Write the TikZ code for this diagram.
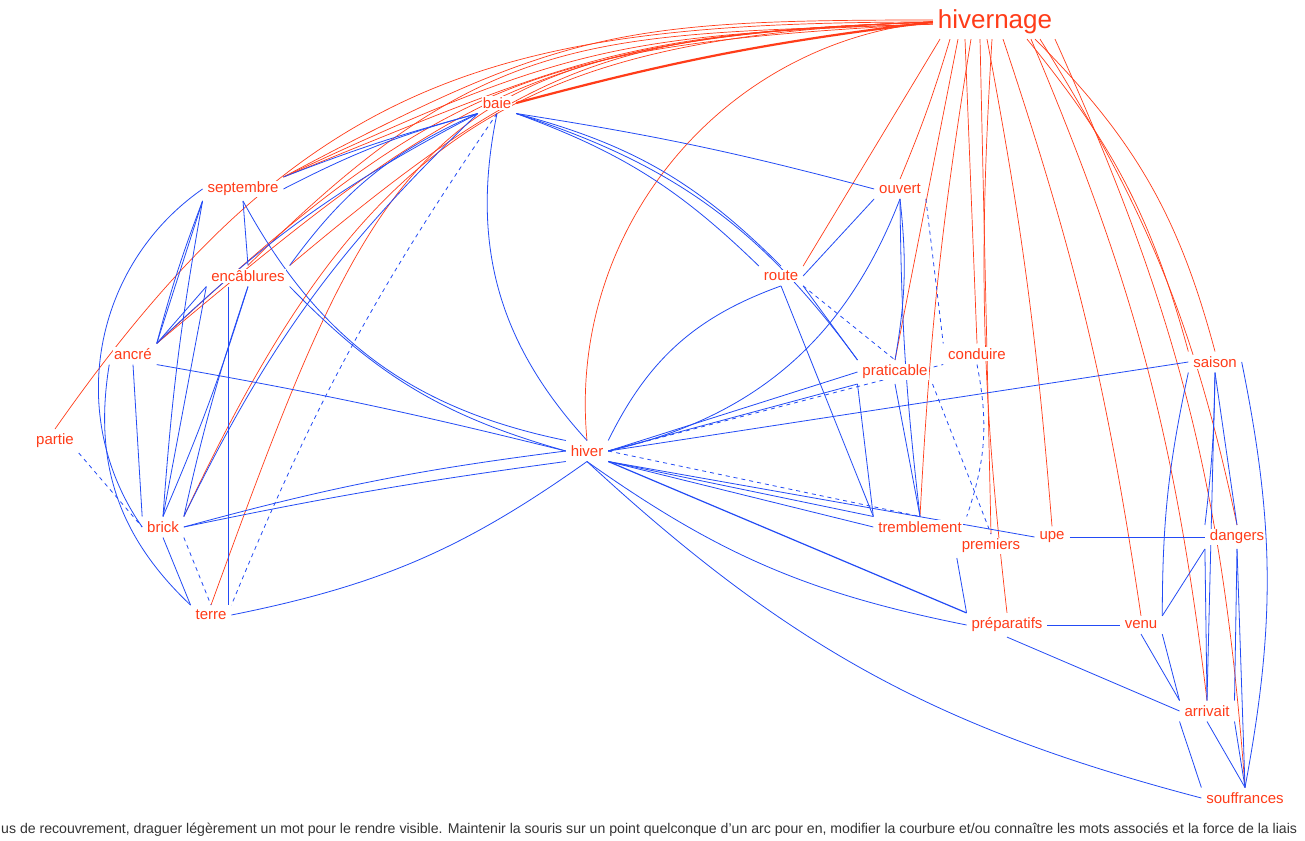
\documentclass[tikz,border=0pt]{standalone}
\usepackage{fontspec}
\usepackage{graphicx}
\setmainfont{Liberation Sans}
\usetikzlibrary{backgrounds}
\definecolor{wred}{RGB}{255,60,25}
\definecolor{wblue}{RGB}{35,75,245}
\begin{document}
\begin{tikzpicture}[x=1pt,y=1pt,
  word/.style={text=wred,fill=white,inner sep=1pt,outer sep=4pt,font=\fontsize{15}{15}\selectfont},
  bigword/.style={word,font=\fontsize{26}{26}\selectfont},
  rl/.style={draw=wred,line width=0.7pt},
  bl/.style={draw=wblue,line width=0.8pt},
  bd/.style={bl,dash pattern=on 4pt off 4pt},
]
\useasboundingbox (0,0) rectangle (1305,-840);
\node[bigword] (hn) at (995,-22) {hivernage};
\node[word] (ba) at (497,-103) {baie};
\node[word] (se) at (243,-189) {septembre};
\node[word] (ou) at (900,-189) {ouvert};
\node[word] (en) at (248,-276) {encâblures};
\node[word] (ro) at (781,-276) {route};
\node[word] (an) at (133,-354) {ancré};
\node[word] (co) at (977,-354) {conduire};
\node[word] (pr) at (895,-372) {praticable};
\node[word] (sa) at (1215,-362) {saison};
\node[word] (pa) at (55,-441) {partie};
\node[word] (hi) at (587,-451) {hiver};
\node[word] (br) at (163,-527) {brick};
\node[word] (tr) at (920,-527) {tremblement};
\node[word] (pm) at (991,-546) {premiers};
\node[word] (up) at (1052,-537) {upe};
\node[word] (da) at (1237,-537) {dangers};
\node[word] (te) at (211,-615) {terre};
\node[word] (pp) at (1007,-625) {préparatifs};
\node[word] (ve) at (1141,-625) {venu};
\node[word] (ar) at (1207,-711) {arrivait};
\node[word] (so) at (1245,-798) {souffrances};
\node[anchor=west,inner sep=0pt,text=black!80] (note) at (1,-830)
  {\resizebox{1296pt}{!}{us de recouvrement, draguer légèrement un mot pour le rendre visible. Maintenir la souris sur un point quelconque d'un arc pour en, modifier la courbure et/ou connaître les mots associés et la force de la liais}};
\begin{pgfonlayer}{background}
\fill[white] (0,0) rectangle (1305,-840);
% red edges from hivernage
\draw[rl,line width=2.2pt] (hn.west) to[bend right=4] (ba.east);
\draw[rl] (hn.west) to[out=182,in=22,looseness=1.2] (se.north east);
\draw[rl] ([yshift=-2pt]hn.west) to[out=182,in=25,looseness=1.2] (se.north east);
\draw[rl] ([yshift=2pt]hn.west) to[out=180,in=28,looseness=1.2] (se.north east);
\draw[rl] (hn.west) to[out=180,in=55,looseness=1.15] (pa.north);
\draw[rl] (hn.west) to[out=182,in=40,looseness=1.2] (en.north east);
\draw[rl] ([yshift=-2pt]hn.west) to[out=182,in=45,looseness=1.2] (en.north);
\draw[rl] (hn.west) to[out=182,in=40,looseness=1.2] (an.north east);
\draw[rl] ([yshift=-2pt]hn.west) to[out=183,in=43,looseness=1.2] (an.north east);
\draw[rl] (hn.west) to[out=182,in=65,looseness=1.2] (br.north east);
\draw[rl] (hn.west) to[out=182,in=70,looseness=1.4] (te.north);
\draw[rl] (hn.west) to[bend right=45] (hi.north);
\draw[rl] ([xshift=-55pt]hn.south) to (ro.north east);
\draw[rl] ([xshift=-45pt]hn.south) to[bend left=3] (ou.north);
\draw[rl] ([xshift=-37pt]hn.south) to (pr.north);
\draw[rl] ([xshift=-30pt]hn.south) to (co.north);
\draw[rl] ([xshift=-24pt]hn.south) to[bend right=3] (tr.north);
\draw[rl] ([xshift=-15pt]hn.south) to (pm.north);
\draw[rl] ([xshift=-8pt]hn.south) to[bend left=3] (up.north);
\draw[rl] ([xshift=-3pt]hn.south) to[bend right=5] (pp.north);
\draw[rl] ([xshift=8pt]hn.south) to[bend left=5] (ve.north);
\draw[rl] ([xshift=40pt]hn.south) to[bend left=15] (sa.north);
\draw[rl] ([xshift=32pt]hn.south) to[bend left=12] (sa.north west);
\draw[rl] ([xshift=45pt]hn.south) to[bend left=10] (da.north);
\draw[rl] ([xshift=36pt]hn.south) to[bend left=8] (ar.north);
\draw[rl] ([xshift=60pt]hn.south) to[bend left=10] (so.north);
% blue edges
\draw[bl] (ba.south west) to[bend right=3] (se.north east);
\draw[bl] (ba.south west) to[bend right=6] (se.east);
\draw[bl] (ba.south west) to[bend right=15] (en.north east);
\draw[bl] (ba.south west) to[bend right=8] (an.north east);
\draw[bl] (ba.south west) to[bend right=10] (br.north east);
\draw[bd] (ba.south) to[bend right=6] (te.north east);
\draw[bl] (ba.south) to[bend right=27] (hi.north);
\draw[bl] (ba.south east) to[bend left=3] (ou.west);
\draw[bl] (ba.south east) to[bend left=15] (ro.north);
\draw[bl] (ba.south east) to[bend left=12] (ro.north west);
\draw[bl] (ba.south east) to[bend left=18] (pr.north west);
\draw[bl] (se.south) -- (en.north);
\draw[bl] (se.south) to[bend right=25] (hi.north west);
\draw[bl] (se.south west) -- (an.north east);
\draw[bl] (se.south west) to[bend right=3] (an.north east);
\draw[bl] (se.south west) to[bend right=3] (br.north);
\draw[bl] (se.west) to[bend right=45] (br.west);
\draw[bl] (en.south west) -- (an.north east);
\draw[bl] (en.south west) -- (br.north);
\draw[bl] (en.south) to[bend left=3] (br.north);
\draw[bl] (en.south) to[bend right=3] (br.north east);
\draw[bl] ([xshift=-20pt]en.south) -- ([xshift=17pt]te.north);
\draw[bl] (en.south east) to[bend right=15] (hi.west);
\draw[bl] (an.south east) to[bend left=2] (hi.west);
\draw[bl] (an.south) -- (br.north west);
\draw[bl] (an.south west) to[bend right=28] (te.north west);
\draw[bd] (pa.south east) -- (br.west);
\draw[bl] (br.east) to[bend left=2] (hi.south west);
\draw[bl] (br.east) to[bend left=4] (hi.west);
\draw[bl] (br.south) -- (te.north west);
\draw[bd] (br.south east) -- (te.north);
\draw[bl] (te.east) to[bend right=12] (hi.south);
\draw[bl] (hi.north east) to[bend left=22] (ro.south);
\draw[bl] (hi.east) to[bend right=28] (ou.south);
\draw[bl] (hi.east) -- (pr.west);
\draw[bl] (hi.east) -- (pr.south west);
\draw[bd] (hi.east) -- (co.south west);
\draw[bl] (hi.east) -- (sa.west);
\draw[bl] (hi.south east) -- (tr.north west);
\draw[bl] (hi.south east) -- (tr.west);
\draw[bd] (hi.east) -- (tr.north);
\draw[bl] (hi.south east) -- (up.west);
\draw[bl,line width=1.2pt] (hi.south east) -- (pp.north west);
\draw[bl] (hi.south) to[bend right=12] (pp.west);
\draw[bl] (hi.south) to[bend right=14] (so.west);
\draw[bl] (ro.south east) -- (pr.north west);
\draw[bd] (ro.south east) -- (pr.north);
\draw[bl] (ro.south) -- (tr.north west);
\draw[bl] (ro.east) -- (ou.south west);
\draw[bl] (ou.south) to[bend left=8] (pr.north);
\draw[bl] (ou.south) to[bend right=3] (tr.north);
\draw[bd] (ou.south east) -- (co.north west);
\draw[bl] (pr.south west) -- (tr.north west);
\draw[bl] (pr.south) -- (tr.north);
\draw[bd] (pr.south east) -- (pm.north);
\draw[bd] (co.south) to[bend left=15] (tr.north east);
\draw[bl] (sa.south) -- (da.north);
\draw[bl] (sa.south) to[bend left=3] (da.north west);
\draw[bl] (sa.south west) to[bend right=6] (ve.north east);
\draw[bl] (sa.south) -- (ar.north);
\draw[bl] (sa.east) to[bend left=11] (so.north);
\draw[bl] (up.east) -- (da.west);
\draw[bl] (pm.south west) -- (pp.north west);
\draw[bl] (pp.east) -- (ve.west);
\draw[bl] (pp.south) -- (ar.west);
\draw[bl] (ve.north east) -- (da.south west);
\draw[bl] (ve.south) -- (ar.north west);
\draw[bl] (ve.south east) -- (ar.north west);
\draw[bl] (da.south west) -- (ar.north);
\draw[bl] (da.south) -- (ar.north east);
\draw[bl] (da.south) -- (so.north);
\draw[bl] (ar.south west) -- (so.north west);
\draw[bl] (ar.south) -- (so.north);
\draw[bl] (ar.south east) -- (so.north);
\end{pgfonlayer}
\end{tikzpicture}
\end{document}
